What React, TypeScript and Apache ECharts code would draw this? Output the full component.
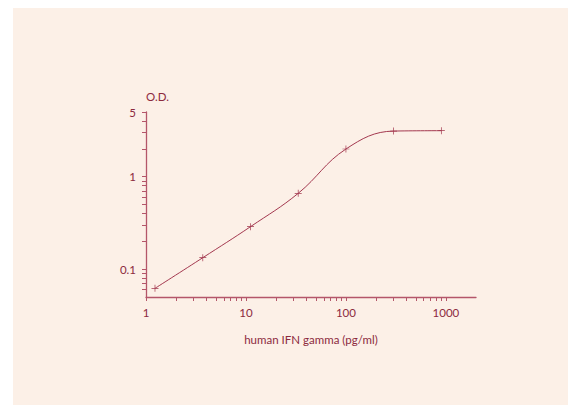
import React, { useEffect, useRef } from "react";
import * as echarts from "echarts";

const concentrations = [1.23, 3.7, 11.1, 33.3, 100, 300, 900];
const odValues = [0.062, 0.133, 0.288, 0.66, 1.99, 3.11, 3.14];
const xLabelValues = [1, 10, 100, 1000];
const yLabelValues = [0.1, 1, 5];
const xTickValues = [
  1, 2, 3, 4, 5, 6, 7, 8, 9,
  10, 20, 30, 40, 50, 60, 70, 80, 90,
  100, 200, 300, 400, 500, 600, 700, 800, 900,
  1000,
];
const yTickValues = [
  0.06, 0.07, 0.08, 0.09,
  0.1, 0.2, 0.3, 0.4, 0.5, 0.6, 0.7, 0.8, 0.9,
  1, 2, 3, 4, 5,
];

const TEXT = "#8c2a3e";
const AXIS = "#b4566a";
const LINE = "#a3384f";
const FONT = "Lato, 'Open Sans', sans-serif";

export default function App() {
  const ref = useRef<HTMLDivElement>(null);
  useEffect(() => {
    if (!ref.current) return;
    const chart = echarts.init(ref.current, undefined, { renderer: "svg" });
    chart.setOption({
      animation: false,
      backgroundColor: "transparent",
      textStyle: { fontFamily: FONT },
      grid: { left: 133, right: 92, top: 104, bottom: 108 },
      xAxis: {
        type: "log",
        logBase: 10,
        min: 1,
        max: 2000,
        name: "human IFN gamma (pg/ml)",
        nameLocation: "middle",
        nameGap: 36,
        nameTextStyle: { color: TEXT, fontSize: 11.5, fontFamily: FONT },
        axisLine: { lineStyle: { color: AXIS, width: 1.3 } },
        axisTick: {
          show: true,
          length: 4,
          inside: false,
          customValues: xTickValues,
          lineStyle: { color: AXIS, width: 1 },
        },
        axisLabel: {
          color: TEXT,
          fontSize: 11.5,
          margin: 9,
          customValues: xLabelValues,
          formatter: (v: number) => String(Math.round(v)),
        },
        splitLine: { show: false },
        minorTick: { show: false },
      },
      yAxis: {
        type: "log",
        logBase: 10,
        min: 0.05,
        max: 5,
        name: "O.D.",
        nameLocation: "end",
        nameGap: 10,
        nameTextStyle: { color: TEXT, fontSize: 11.5, fontFamily: FONT, align: "left" },
        axisLine: { lineStyle: { color: AXIS, width: 1.3 } },
        axisTick: {
          show: true,
          length: 4,
          inside: false,
          customValues: yTickValues,
          lineStyle: { color: AXIS, width: 1 },
        },
        axisLabel: {
          color: TEXT,
          fontSize: 11.5,
          margin: 10,
          customValues: yLabelValues,
          formatter: (v: number) => (v < 1 ? String(Math.round(v * 10) / 10) : String(Math.round(v))),
        },
        splitLine: { show: false },
      },
      series: [
        {
          type: "line",
          data: concentrations.map((c, i) => [c, odValues[i]]),
          smooth: 0.4,
          symbol: "path://M0,4.5L4.5,4.5L4.5,0L5.5,0L5.5,4.5L10,4.5L10,5.5L5.5,5.5L5.5,10L4.5,10L4.5,5.5L0,5.5Z",
          symbolSize: 7,
          itemStyle: { color: LINE },
          lineStyle: { color: LINE, width: 1 },
        },
      ],
    });
    return () => chart.dispose();
  }, []);
  return (
    <div style={{ position: "absolute", left: 0, top: 0, width: 576, height: 405, background: "#ffffff" }}>
      <div style={{ position: "absolute", left: 13, top: 8, width: 555, height: 397, background: "#fcf0e7" }}>
        <div ref={ref} style={{ width: 555, height: 397 }} />
      </div>
    </div>
  );
}
